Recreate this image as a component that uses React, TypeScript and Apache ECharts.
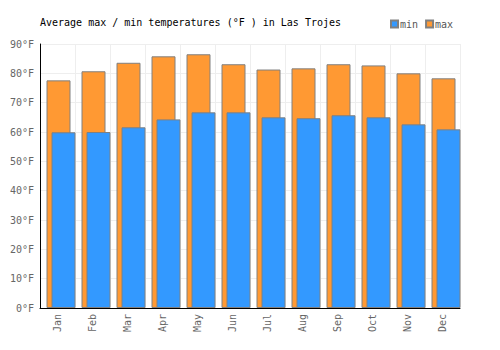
import React, { useEffect, useRef } from "react";
import * as echarts from "echarts";

const months = ["Jan", "Feb", "Mar", "Apr", "May", "Jun", "Jul", "Aug", "Sep", "Oct", "Nov", "Dec"];
const maxTemps = [77.6, 80.7, 83.6, 85.8, 86.5, 83.1, 81.3, 81.7, 83.1, 82.7, 80.0, 78.3];
const minTemps = [59.9, 60.0, 61.6, 64.3, 66.7, 66.7, 65.0, 64.7, 65.7, 65.0, 62.6, 60.9];
const legendItems = ["min", "max"];

const FONT = "DejaVu Sans Mono";

export default function App() {
  const ref = useRef<HTMLDivElement>(null);
  useEffect(() => {
    document.body.style.margin = "0";
    if (!ref.current) return;
    const chart = echarts.init(ref.current, null, { renderer: "svg" });
    chart.setOption({
      animation: false,
      title: {
        text: "Average max / min temperatures (°F ) in Las Trojes",
        left: 40,
        top: 17,
        padding: 0,
        textStyle: { fontFamily: FONT, fontSize: 10, fontWeight: "normal", color: "#000" },
      },
      legend: {
        data: legendItems,
        left: 390,
        top: 19,
        padding: 0,
        itemWidth: 7,
        itemHeight: 7,
        itemGap: 7,
        icon: "rect",
        textStyle: { fontFamily: FONT, fontSize: 10, color: "#555", padding: [0, 0, 0, -3] },
      },
      grid: { left: 40, right: 40, top: 44, bottom: 42 },
      xAxis: {
        type: "category",
        data: months,
        boundaryGap: true,
        axisLine: { lineStyle: { color: "#000", width: 1 } },
        axisTick: { show: false },
        axisLabel: { rotate: 90, margin: 6, color: "#666", fontFamily: FONT, fontSize: 10 },
        splitLine: { show: true, lineStyle: { color: "#eee", width: 1 } },
      },
      yAxis: {
        type: "value",
        min: 0,
        max: 90,
        interval: 10,
        axisLine: { show: true, lineStyle: { color: "#000", width: 1 } },
        axisTick: { show: false },
        axisLabel: { formatter: "{value}°F", color: "#666", fontFamily: FONT, fontSize: 10, margin: 6 },
        splitLine: { show: true, lineStyle: { color: "#eee", width: 1 } },
      },
      series: [
        {
          name: "max",
          type: "bar",
          data: maxTemps,
          barWidth: 24,
          itemStyle: { color: "#FF9933", borderColor: "#808080", borderWidth: 1 },
        },
        {
          name: "min",
          type: "bar",
          data: minTemps,
          barWidth: 24,
          itemStyle: { color: "#3399FF", borderColor: "#808080", borderWidth: 1 },
        },
        {
          name: "_spacer",
          type: "bar",
          data: [],
          barWidth: 12,
          barGap: "-79.17%",
          itemStyle: { color: "transparent" },
        },
      ],
    });
    return () => chart.dispose();
  }, []);
  return <div ref={ref} style={{ width: 500, height: 350 }} />;
}
